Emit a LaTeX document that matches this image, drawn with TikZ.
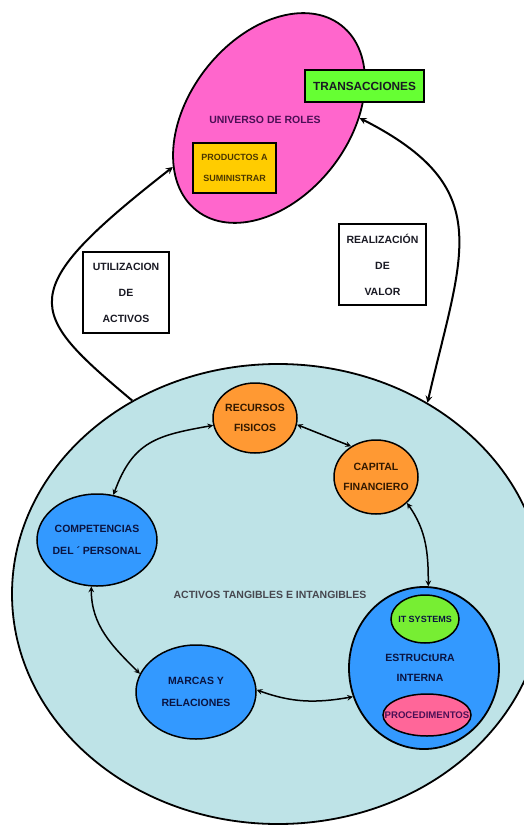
\documentclass[tikz,border=0pt]{standalone}
\usepackage{fontspec}
\setmainfont{Liberation Sans}
\usetikzlibrary{arrows,shapes.geometric}
\definecolor{cielo}{RGB}{190,227,231}
\definecolor{rosa}{RGB}{255,102,204}
\definecolor{verde}{RGB}{102,255,51}
\definecolor{verdeit}{RGB}{119,238,51}
\definecolor{amarillo}{RGB}{255,204,0}
\definecolor{naranja}{RGB}{255,153,51}
\definecolor{azul}{RGB}{51,153,255}
\definecolor{rosado}{RGB}{255,102,153}
\definecolor{tinta}{RGB}{25,25,35}
\definecolor{morado}{RGB}{75,15,85}
\definecolor{marino}{RGB}{10,20,65}
\definecolor{cafe}{RGB}{50,25,0}
\definecolor{oliva}{RGB}{75,55,0}

\begin{document}
\begin{tikzpicture}[x=1pt,y=-1pt,
    nodo/.style={ellipse,draw,line width=1.5pt,inner sep=0pt},
    caja/.style={draw,line width=1.8pt,inner sep=0pt},
    txt/.style={font=\bfseries\fontsize{10.5}{20}\selectfont,align=center,inner sep=0pt,text=tinta},
    flecha/.style={line width=1.5pt,stealth-stealth}]
  \useasboundingbox (0,0) rectangle (523,826);
  \node[nodo,line width=1.8pt,fill=cielo,minimum width=532,minimum height=460] (activos) at (278,594) {};
  \node[nodo,line width=1.8pt,fill=rosa,minimum width=235,minimum height=160,rotate=52] (roles) at (269,118) {};
  \node[txt,text=morado] (t-roles) at (265,120) {UNIVERSO DE ROLES};
  \node[caja,txt,fill=verde,minimum width=119,minimum height=32,font=\bfseries\fontsize{11.8}{14}\selectfont] (trans) at (364.5,86) {TRANSACCIONES};
  \node[caja,txt,fill=amarillo,minimum width=83,minimum height=50,text=oliva,font=\bfseries\fontsize{9}{21}\selectfont] (prod) at (234.5,168) {PRODUCTOS A\\SUMINISTRAR};
  \node[caja,txt,fill=white,minimum width=86,minimum height=81,font=\bfseries\fontsize{10.5}{26}\selectfont] (util) at (126,292.5) {UTILIZACION\\DE\\ACTIVOS};
  \node[caja,txt,fill=white,minimum width=87,minimum height=81,font=\bfseries\fontsize{10.5}{26}\selectfont] (valor) at (382.5,264.5) {REALIZACIÓN\\DE\\VALOR};

  \draw[line width=2pt,-stealth] (activos.127) to[out=140,in=218,out looseness=1.5,in looseness=2.2] (roles.155);
  \draw[line width=2pt,stealth-stealth] (roles.308) to[out=-27,in=77,looseness=1.35] (activos.52);

  \node[nodo,fill=naranja,minimum width=84,minimum height=70] (recursos) at (255,418) {};
  \node[nodo,fill=naranja,minimum width=84,minimum height=74] (capital) at (376,477) {};
  \node[nodo,fill=azul,minimum width=120,minimum height=92] (competencias) at (97,540) {};
  \node[nodo,fill=azul,minimum width=120,minimum height=94] (marcas) at (196,692) {};
  \node[nodo,line width=1.8pt,fill=azul,minimum width=150,minimum height=162] (estructura) at (424,668) {};
  \node[nodo,fill=verdeit,minimum width=68,minimum height=48] (it) at (425,619) {};
  \node[nodo,fill=rosado,minimum width=88,minimum height=42] (proc) at (427,715) {};

  \node[txt,text=cafe] (t-recursos) at (recursos) {RECURSOS\\FISICOS};
  \node[txt,text=cafe] (t-capital) at (capital) {CAPITAL\\FINANCIERO};
  \node[txt,text=marino,font=\bfseries\fontsize{10.5}{22}\selectfont] (t-competencias) at (competencias) {COMPETENCIAS\\DEL ´ PERSONAL};
  \node[txt,text=marino,font=\bfseries\fontsize{10.5}{22}\selectfont] (t-marcas) at (marcas) {MARCAS Y\\RELACIONES};
  \node[txt,text=marino] (t-estructura) at (420,668) {ESTRUCtURA\\INTERNA};
  \node[txt,text=marino,font=\bfseries\fontsize{9}{11}\selectfont] (t-it) at (it) {IT SYSTEMS};
  \node[txt,text=morado,font=\bfseries\fontsize{9.6}{11}\selectfont] (t-proc) at (proc) {PROCEDIMENTOS};
  \node[txt,text=tinta!80] (t-activos) at (270,595) {ACTIVOS TANGIBLES E INTANGIBLES};

  \path[flecha]
    (competencias.70) edge[out=70,in=190,looseness=1.2] (recursos.190)
    (recursos.-9) edge (capital.129)
    (capital.-40) edge[out=-55,in=90] (estructura.87)
    (competencias.-97) edge[out=-90,in=135] (marcas.162)
    (marcas.2) edge[out=-20,in=190] (estructura.202);
\end{tikzpicture}
\end{document}
